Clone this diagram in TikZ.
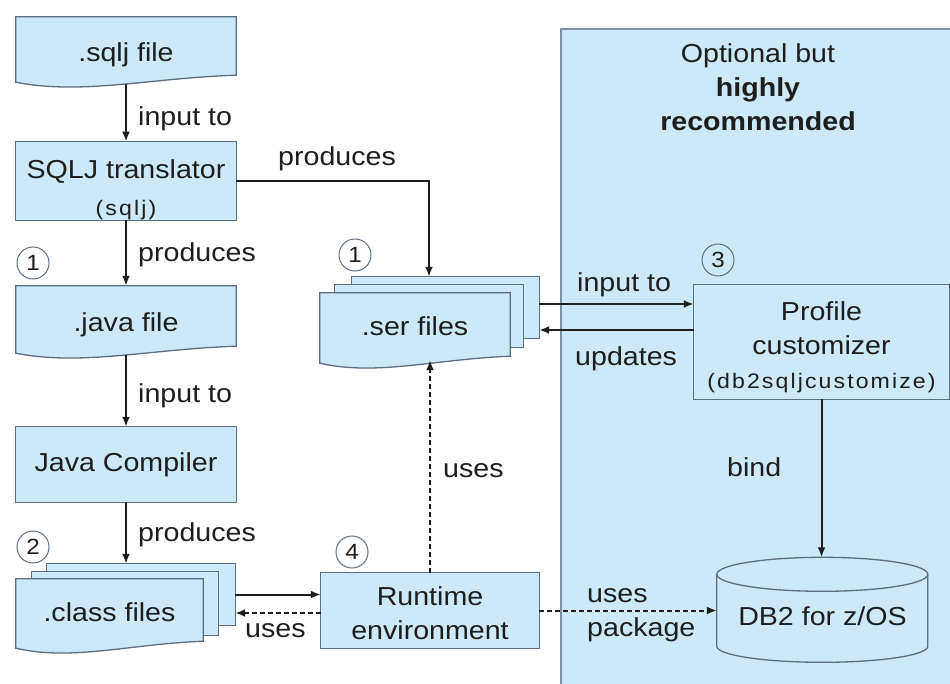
\documentclass[tikz,border=0pt]{standalone}
\usepackage{fontspec}
\setmainfont{Liberation Sans}[FakeStretch=1.1]
\usetikzlibrary{arrows.meta,calc}
\definecolor{boxfill}{HTML}{CDE8F8}
\definecolor{boxline}{HTML}{5C6E80}
\definecolor{panelline}{HTML}{7F92A4}
\definecolor{ink}{HTML}{1E1E1E}
\pgfdeclarelayer{panel}\pgfdeclarelayer{bg}\pgfsetlayers{panel,bg,main}
\newcommand\bigtxt{\fontsize{26}{34}\selectfont}
\newcommand\codetxt{\fontsize{21}{24}\selectfont\addfontfeature{LetterSpace=10}}
\tikzset{
 lbl/.style={font=\bigtxt, text=ink, inner sep=0pt, anchor=base west},
 box/.style={draw=none, inner sep=0pt, font=\bigtxt, text=ink, align=center},
 shp/.style={fill=boxfill, draw=boxline, line width=1.3pt},
 arr/.style={draw=ink, line width=2pt, -{Latex[length=10pt,width=8pt]}},
 darr/.style={arr, dash pattern=on 5pt off 3pt},
 num/.style={circle, draw=boxline, line width=1pt, minimum size=32pt, inner sep=0pt, font=\fontsize{22}{22}\selectfont, text=ink},
}
\newcommand\docshape[1]{\draw[shp] (#1.north west) -- (#1.north east) -- ([yshift=4pt]#1.south east)
  .. controls ($(#1.south west)!0.6!(#1.south east)+(0,-1)$) and ($(#1.south west)!0.3!(#1.south east)+(0,16)$)
  .. ([yshift=-3pt]#1.south west) -- cycle;}
\newcommand\sheet[1]{\draw[shp] (#1.north west) rectangle (#1.south east);}
\begin{document}
\begin{tikzpicture}[x=1pt,y=-1pt]
\clip (0,0) rectangle (950,684);
% panel
\begin{pgfonlayer}{panel}
\fill[white] (0,0) rectangle (950,684);
\draw[fill=boxfill, draw=panelline, line width=2.5pt] (561,29) rectangle (965,700);
\end{pgfonlayer}
\node[box, align=center] (opt) at (758,87) {Optional but\\\textbf{highly}\\\textbf{recommended}};

% left column
\node[box, minimum width=220pt, minimum height=62pt] (sqlj) at (126,48) {\rule{0pt}{32pt}.sqlj file};
\node[box, minimum width=220pt, minimum height=74pt] (trans) at (126,181) {\rule{0pt}{37pt}SQLJ translator\\[3pt]{\codetxt(sqlj)}};
\node[box, minimum width=220pt, minimum height=64pt] (java) at (126,318) {\rule{0pt}{32pt}.java file};
\node[box, minimum width=220pt, minimum height=75pt] (comp) at (126,464.5) {Java Compiler};

\node[box, minimum width=188pt, minimum height=61pt] (classC) at (141,594.5) {};
\node[box, minimum width=186pt, minimum height=63pt] (classB) at (125,603.5) {};
\node[box, minimum width=187pt, minimum height=66pt] (class) at (109.5,612) {.class files};

\node[box, minimum width=187pt, minimum height=61pt] (serC) at (445.5,307.5) {};
\node[box, minimum width=188pt, minimum height=62pt] (serB) at (429,316) {};
\node[box, minimum width=190pt, minimum height=67pt] (ser) at (415,326.5) {.ser files};

\node[box, minimum width=218pt, minimum height=75pt] (run) at (430,610.5) {\rule{0pt}{24pt}Runtime\\environment};
\node[box, minimum width=255pt, minimum height=114pt] (prof) at (821.5,342) {\rule{0pt}{30pt}Profile\\customizer\\{\codetxt(db2sqljcustomize)}};
\node[box, minimum width=211pt, minimum height=106pt] (db) at (822.5,610.5) {\\[-4pt]DB2 for z/OS};

\begin{pgfonlayer}{bg}
\docshape{sqlj}
\sheet{trans}
\docshape{java}
\sheet{comp}
\sheet{classC}
\sheet{classB}
\docshape{class}
\sheet{serC}
\sheet{serB}
\docshape{ser}
\sheet{run}
\sheet{prof}
\path (db.north west) ++(0,17) coordinate (dbtl);
\draw[shp] (dbtl) -- ++(0,72) arc[start angle=180,end angle=360,x radius=105.5pt,y radius=16pt]
  -- ++(0,-72) arc[start angle=0,end angle=180,x radius=105.5pt,y radius=17pt] -- cycle;
\draw[draw=boxline, line width=1.3pt] (dbtl) arc[start angle=180,end angle=360,x radius=105.5pt,y radius=17pt];
\end{pgfonlayer}

% numbers
\node[num] (n1a) at (33,263) {1};
\node[num] (n2) at (33,547) {2};
\node[num] (n1b) at (355,255) {1};
\node[num] (n3) at (718,260) {3};
\node[num] (n4) at (352,552) {4};

% connectors
\draw[arr] ([yshift=-5pt]sqlj.south) -- (trans.north);
\draw[arr] (trans.south) -- (java.north);
\draw[arr] ([yshift=-5pt]java.south) -- (comp.north);
\draw[arr] (comp.south) -- (comp.south |- classC.north);
\draw[arr] (trans.east) -| (serB.north |- serC.north);
\draw[darr] (run.north) -- (run.north |- ser.south);
\draw[arr] (classC.east) -- (classC.east -| run.west);
\draw[darr] ([yshift=-2.5pt]run.west) -- ([yshift=-2.5pt]run.west -| classC.east);
\draw[arr] ([yshift=3.5pt]serC.east) -- ([yshift=3.5pt]serC.east -| prof.west);
\draw[arr] ([yshift=-22.5pt]serC.east -| prof.west) -- ([yshift=-22.5pt]serC.east);
\draw[arr] (prof.south) -- (prof.south |- db.north);
\draw[darr] (run.east) -- (run.east -| db.west);

% labels
\node[lbl] (l1) at (138,126) {input to};
\node[lbl] (l2) at (138,262) {produces};
\node[lbl] (l3) at (138,402) {input to};
\node[lbl] (l4) at (138,541) {produces};
\node[lbl] (l5) at (278,166) {produces};
\node[lbl] (l6) at (443,477) {uses};
\node[lbl] (l7) at (245,637) {uses};
\node[lbl] (l8) at (577,292) {input to};
\node[lbl] (l9) at (575,366) {updates};
\node[lbl] (l10) at (727,476) {bind};
\node[lbl] (l11) at (587,602) {uses};
\node[lbl] (l12) at (587,636) {package};
\end{tikzpicture}
\end{document}
